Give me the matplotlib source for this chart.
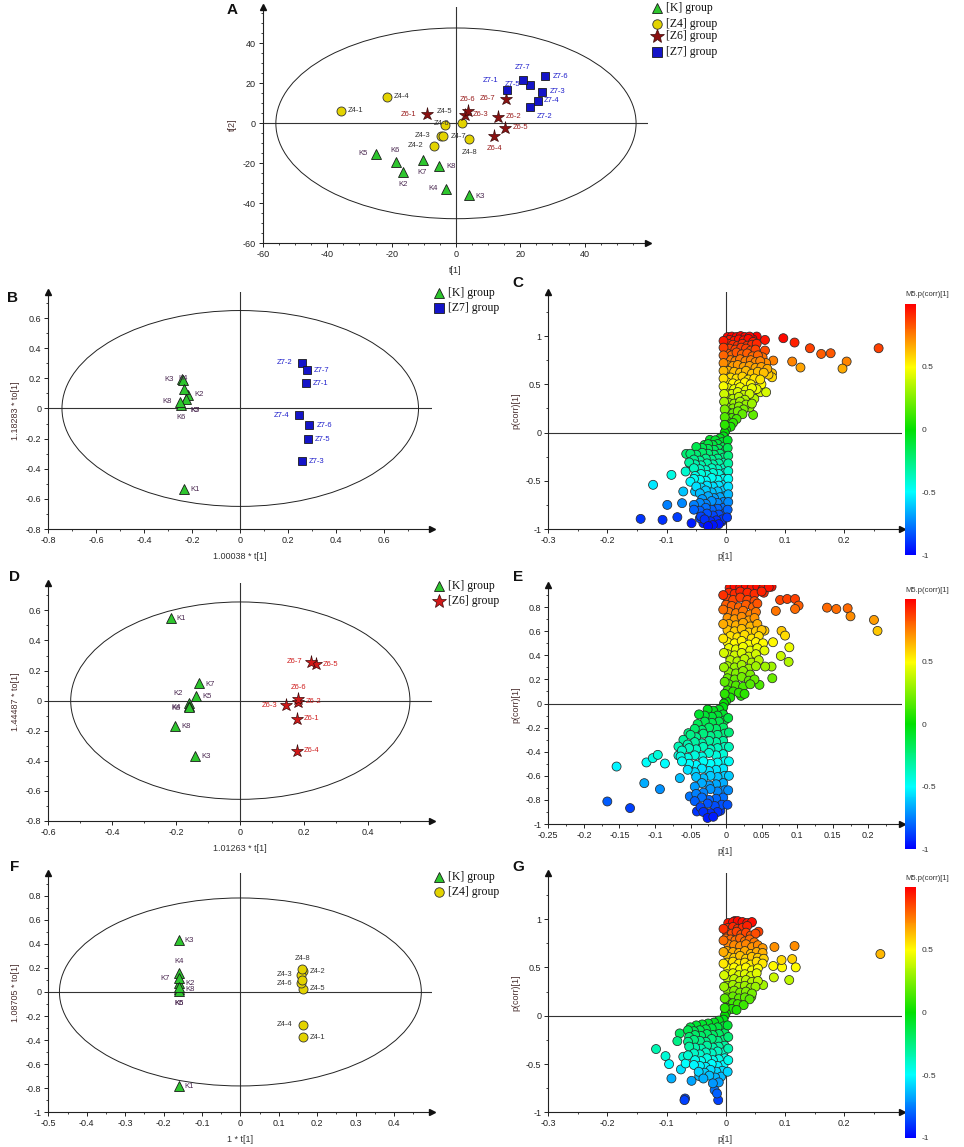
import numpy as np
import matplotlib
matplotlib.use('Agg')
import matplotlib.pyplot as plt
from matplotlib.patches import Ellipse
from matplotlib.lines import Line2D
from matplotlib.colors import LinearSegmentedColormap, Normalize
from matplotlib.ticker import MultipleLocator, AutoMinorLocator, FuncFormatter
import matplotlib.cm as cm

plt.rcParams['font.family'] = ['Liberation Sans', 'DejaVu Sans']
plt.rcParams['axes.unicode_minus'] = False

# ---------------- DATA ----------------
# Panel A (PCA scores)
a_k_names = ['K2', 'K3', 'K4', 'K5', 'K6', 'K7', 'K8']
a_k_t1 = [-16.6, 3.9, -3.0, -24.8, -18.8, -10.4, -5.2]
a_k_t2 = [-24.3, -35.7, -32.6, -15.3, -19.3, -18.3, -21.1]
a_z4_names = ['Z4-1', 'Z4-2', 'Z4-3', 'Z4-4', 'Z4-5', 'Z4-6', 'Z4-7', 'Z4-8']
a_z4_t1 = [-35.8, -6.9, -4.8, -21.6, -3.4, 1.8, -4.0, 4.1]
a_z4_t2 = [6.2, -11.3, -6.2, 13.3, -0.8, 0.0, -6.5, -8.0]
a_z6_names = ['Z6-1', 'Z6-2', 'Z6-3', 'Z6-4', 'Z6-5', 'Z6-6', 'Z6-7']
a_z6_t1 = [-9.0, 13.1, 2.7, 11.9, 15.3, 3.6, 15.4]
a_z6_t2 = [4.5, 3.3, 4.2, -6.3, -2.2, 6.0, 12.3]
a_z7_names = ['Z7-1', 'Z7-2', 'Z7-3', 'Z7-4', 'Z7-5', 'Z7-6', 'Z7-7']
a_z7_t1 = [15.8, 23.1, 26.9, 25.5, 23.0, 27.8, 20.7]
a_z7_t2 = [16.6, 8.3, 15.8, 11.3, 19.3, 23.6, 21.9]

# Panel B (OPLS-DA K vs Z7)
b_k_names = ['K1', 'K2', 'K3', 'K4', 'K5', 'K6', 'K7', 'K8']
b_k_t1 = [-0.233, -0.218, -0.241, -0.238, -0.225, -0.246, -0.233, -0.250]
b_k_to1 = [-0.535, 0.091, 0.195, 0.190, 0.064, 0.024, 0.128, 0.046]
b_z7_names = ['Z7-1', 'Z7-2', 'Z7-3', 'Z7-4', 'Z7-5', 'Z7-6', 'Z7-7']
b_z7_t1 = [0.274, 0.256, 0.256, 0.243, 0.281, 0.288, 0.278]
b_z7_to1 = [0.168, 0.305, -0.351, -0.046, -0.203, -0.110, 0.254]

# Panel D (OPLS-DA K vs Z6)
d_k_names = ['K1', 'K2', 'K3', 'K4', 'K5', 'K6', 'K7', 'K8']
d_k_t1 = [-0.218, -0.161, -0.141, -0.161, -0.138, -0.161, -0.130, -0.203]
d_k_to1 = [0.551, -0.018, -0.365, -0.033, 0.031, -0.044, 0.117, -0.168]
d_z6_names = ['Z6-1', 'Z6-2', 'Z6-3', 'Z6-4', 'Z6-5', 'Z6-6', 'Z6-7']
d_z6_t1 = [0.177, 0.181, 0.143, 0.177, 0.235, 0.181, 0.222]
d_z6_to1 = [-0.122, -0.007, -0.029, -0.334, 0.243, 0.013, 0.257]

# Panel F (OPLS-DA K vs Z4)
f_k_names = ['K1', 'K2', 'K3', 'K4', 'K5', 'K6', 'K7', 'K8']
f_k_t1 = [-0.161, -0.159, -0.161, -0.159, -0.159, -0.159, -0.161, -0.159]
f_k_to1 = [-0.778, 0.072, 0.432, 0.155, 0.022, 0.011, 0.114, 0.044]
f_z4_names = ['Z4-1', 'Z4-2', 'Z4-3', 'Z4-4', 'Z4-5', 'Z4-6', 'Z4-7', 'Z4-8']
f_z4_t1 = [0.163, 0.163, 0.159, 0.163, 0.163, 0.159, 0.161, 0.161]
f_z4_to1 = [-0.377, 0.172, 0.141, -0.274, 0.025, 0.072, 0.100, 0.188]

# S-plots: (p[1], p(corr)[1])
c_points = [
    (0.097, 0.978), (0.116, 0.933), (0.142, 0.874), (0.161, 0.815), (0.177, 0.822), (0.258, 0.874),
    (0.204, 0.736), (0.197, 0.663), (0.112, 0.736), (0.126, 0.674), (0.066, 0.96), (0.066, 0.85),
    (0.080, 0.746), (0.078, 0.615), (0.078, 0.573), (0.058, 0.418), (0.068, 0.418), (0.046, 0.183),
    (0.035, 0.287), (0.052, 0.995), (0.045, 0.967),
    (-0.144, -0.895), (-0.107, -0.905), (-0.082, -0.877), (-0.099, -0.75), (-0.123, -0.542),
    (-0.092, -0.439), (-0.074, -0.732), (-0.072, -0.611), (-0.052, -0.611), (-0.067, -0.221),
    (-0.061, -0.318), (-0.068, -0.404), (-0.036, -0.128), (-0.027, -0.076), (-0.047, -0.214),
    (-0.058, -0.94), (-0.038, -0.94), (-0.044, -0.888), (-0.027, -0.94), (-0.010, -0.80),
    (-0.016, -0.905), (-0.007, -0.922),
    (0.062, 0.78), (0.068, 0.72), (0.072, 0.6), (0.06, 0.5), (0.052, 0.45), (0.048, 0.35),
    (0.04, 0.26),
    (0.003, 0.99), (0.01, 0.995), (0.018, 0.99), (0.025, 1.0), (0.032, 0.99), (0.04, 0.995),
    (0.006, 0.96), (0.014, 0.95), (0.022, 0.965), (0.03, 0.955), (0.038, 0.97), (0.046, 0.94),
    (0.004, 0.92), (0.012, 0.91), (0.02, 0.9), (0.028, 0.92), (0.036, 0.9), (0.044, 0.91),
    (0.052, 0.92), (0.006, 0.87), (0.016, 0.86), (0.026, 0.88), (0.034, 0.87), (0.042, 0.85),
    (0.05, 0.86), (0.002, 0.82), (0.01, 0.8), (0.018, 0.83), (0.027, 0.81), (0.036, 0.82),
    (0.045, 0.79), (0.054, 0.8), (0.0, 0.76), (0.008, 0.75), (0.016, 0.74), (0.024, 0.76),
    (0.033, 0.74), (0.042, 0.75), (0.05, 0.73), (0.058, 0.74), (0.002, 0.7), (0.012, 0.69),
    (0.02, 0.7), (0.03, 0.68), (0.04, 0.69), (0.05, 0.67), (0.06, 0.68), (0.07, 0.66),
    (0.004, 0.64), (0.014, 0.63), (0.024, 0.62), (0.034, 0.64), (0.044, 0.61), (0.054, 0.63),
    (0.064, 0.62), (0.0, 0.58), (0.008, 0.57), (0.018, 0.56), (0.028, 0.58), (0.038, 0.55),
    (0.048, 0.56), (0.058, 0.55), (0.002, 0.52), (0.012, 0.51), (0.022, 0.5), (0.032, 0.52),
    (0.042, 0.5), (0.004, 0.46), (0.014, 0.45), (0.024, 0.47), (0.034, 0.44), (0.044, 0.46),
    (0.0, 0.41), (0.01, 0.4), (0.02, 0.42), (0.03, 0.39), (0.04, 0.4), (0.002, 0.36),
    (0.012, 0.35), (0.022, 0.37), (0.032, 0.34), (0.004, 0.31), (0.014, 0.3), (0.024, 0.32),
    (0.034, 0.29), (0.044, 0.3), (0.002, 0.26), (0.012, 0.25), (0.022, 0.27), (0.03, 0.24),
    (0.004, 0.21), (0.012, 0.2), (0.02, 0.22), (0.028, 0.19), (0.002, 0.16), (0.01, 0.15),
    (0.018, 0.14), (0.004, 0.11), (0.012, 0.1), (0.0, 0.07), (0.008, 0.06), (0.0, 0.03),
    (-0.002, 0.0), (-0.004, -0.04), (-0.01, -0.06), (-0.018, -0.08), (-0.006, -0.1),
    (-0.014, -0.12), (-0.022, -0.13), (-0.03, -0.12), (-0.004, -0.15), (-0.012, -0.17),
    (-0.02, -0.18), (-0.03, -0.17), (-0.04, -0.16), (-0.05, -0.15), (-0.002, -0.2),
    (-0.01, -0.22), (-0.02, -0.23), (-0.03, -0.22), (-0.04, -0.21), (-0.05, -0.23),
    (-0.06, -0.22), (-0.004, -0.26), (-0.014, -0.27), (-0.024, -0.28), (-0.034, -0.27),
    (-0.044, -0.29), (-0.054, -0.28), (-0.002, -0.31), (-0.012, -0.32), (-0.022, -0.33),
    (-0.032, -0.32), (-0.042, -0.34), (-0.052, -0.33), (-0.062, -0.31), (-0.004, -0.37),
    (-0.014, -0.38), (-0.024, -0.37), (-0.034, -0.39), (-0.044, -0.38), (-0.054, -0.37),
    (-0.002, -0.42), (-0.012, -0.43), (-0.022, -0.42), (-0.032, -0.44), (-0.042, -0.43),
    (-0.052, -0.45), (-0.004, -0.48), (-0.014, -0.49), (-0.024, -0.47), (-0.034, -0.5),
    (-0.044, -0.49), (-0.054, -0.48), (-0.06, -0.51), (-0.002, -0.54), (-0.012, -0.55),
    (-0.022, -0.56), (-0.032, -0.55), (-0.042, -0.57), (-0.05, -0.56), (-0.004, -0.6),
    (-0.014, -0.61), (-0.024, -0.62), (-0.034, -0.6), (-0.044, -0.63), (-0.002, -0.66),
    (-0.01, -0.67), (-0.02, -0.68), (-0.03, -0.66), (-0.04, -0.69), (-0.004, -0.72),
    (-0.014, -0.73), (-0.024, -0.71), (-0.034, -0.74), (-0.044, -0.73), (-0.054, -0.75),
    (-0.004, -0.78), (-0.014, -0.79), (-0.024, -0.8), (-0.034, -0.78), (-0.044, -0.81),
    (-0.054, -0.8), (-0.002, -0.84), (-0.012, -0.85), (-0.022, -0.86), (-0.032, -0.84),
    (-0.042, -0.87), (-0.006, -0.9), (-0.016, -0.91), (-0.026, -0.92), (-0.036, -0.9),
    (-0.012, -0.95), (-0.022, -0.96), (-0.03, -0.97),
    (-0.004, 0.95), (-0.004, 0.88), (-0.004, 0.8), (-0.004, 0.72), (-0.004, 0.64),
    (-0.004, 0.56), (-0.004, 0.48), (-0.003, 0.4), (-0.003, 0.32), (-0.002, 0.24),
    (-0.002, 0.16), (-0.002, 0.08), (0.003, -0.08), (0.003, -0.16), (0.004, -0.24),
    (0.004, -0.32), (0.004, -0.4), (0.004, -0.48), (0.004, -0.56), (0.004, -0.64),
    (0.004, -0.72), (0.003, -0.8), (0.002, -0.88),
]

e_points = [
    (0.142, 0.796), (0.155, 0.785), (0.171, 0.791), (0.175, 0.724), (0.208, 0.694), (0.213, 0.603),
    (0.076, 0.86), (0.086, 0.868), (0.097, 0.868), (0.102, 0.813), (0.097, 0.785), (0.070, 0.769),
    (0.078, 0.603), (0.083, 0.564), (0.089, 0.467), (0.077, 0.395), (0.088, 0.346), (0.066, 0.509),
    (0.054, 0.605), (0.064, 0.307), (0.055, 0.307), (0.065, 0.21), (0.047, 0.155), (0.021, 0.064),
    (0.064, 0.97), (0.053, 0.92),
    (-0.167, -0.813), (-0.135, -0.868), (-0.154, -0.523), (-0.115, -0.661), (-0.112, -0.489),
    (-0.103, -0.453), (-0.096, -0.426), (-0.086, -0.498), (-0.093, -0.711), (-0.065, -0.619),
    (-0.053, -0.246), (-0.060, -0.301), (-0.067, -0.357), (-0.067, -0.431), (-0.041, -0.896),
    (-0.027, -0.91), (-0.008, -0.89), (-0.051, -0.771), (-0.025, -0.053),
    (0.005, 0.96), (0.012, 0.97), (0.02, 0.965), (0.028, 0.97), (0.036, 0.96), (0.044, 0.97),
    (0.052, 0.955), (0.06, 0.965), (0.004, 0.92), (0.012, 0.91), (0.02, 0.93), (0.03, 0.92),
    (0.04, 0.91), (0.05, 0.93), (0.002, 0.87), (0.01, 0.86), (0.02, 0.88), (0.03, 0.86),
    (0.04, 0.85), (0.0, 0.82), (0.008, 0.81), (0.018, 0.8), (0.028, 0.82), (0.038, 0.8),
    (0.044, 0.83), (0.004, 0.76), (0.014, 0.75), (0.024, 0.77), (0.034, 0.74), (0.042, 0.76),
    (0.002, 0.71), (0.012, 0.7), (0.022, 0.72), (0.032, 0.69), (0.04, 0.71), (0.004, 0.66),
    (0.014, 0.65), (0.024, 0.67), (0.034, 0.64), (0.044, 0.66), (0.002, 0.61), (0.012, 0.6),
    (0.022, 0.62), (0.032, 0.59), (0.042, 0.6), (0.05, 0.61), (0.006, 0.56), (0.016, 0.55),
    (0.026, 0.57), (0.036, 0.54), (0.046, 0.56), (0.002, 0.51), (0.012, 0.5), (0.022, 0.52),
    (0.032, 0.49), (0.042, 0.51), (0.052, 0.5), (0.004, 0.46), (0.014, 0.45), (0.024, 0.47),
    (0.034, 0.44), (0.044, 0.46), (0.054, 0.44), (0.002, 0.41), (0.012, 0.4), (0.022, 0.42),
    (0.032, 0.39), (0.042, 0.41), (0.006, 0.36), (0.016, 0.35), (0.026, 0.37), (0.036, 0.34),
    (0.046, 0.36), (0.002, 0.31), (0.012, 0.3), (0.022, 0.32), (0.032, 0.29), (0.042, 0.31),
    (0.004, 0.26), (0.014, 0.25), (0.024, 0.27), (0.034, 0.24), (0.002, 0.21), (0.012, 0.2),
    (0.022, 0.22), (0.032, 0.19), (0.04, 0.2), (0.004, 0.16), (0.014, 0.15), (0.024, 0.14),
    (0.034, 0.16), (0.002, 0.11), (0.01, 0.1), (0.018, 0.09), (0.026, 0.08), (0.0, 0.06),
    (0.006, 0.05), (0.0, 0.02), (-0.003, 0.0), (-0.004, -0.03), (-0.01, -0.05), (-0.018, -0.06),
    (-0.026, -0.05), (-0.004, -0.09), (-0.012, -0.1), (-0.02, -0.11), (-0.03, -0.1),
    (-0.038, -0.09), (-0.002, -0.14), (-0.01, -0.15), (-0.02, -0.16), (-0.03, -0.15),
    (-0.04, -0.17), (-0.004, -0.2), (-0.014, -0.21), (-0.024, -0.2), (-0.034, -0.22),
    (-0.044, -0.21), (-0.002, -0.25), (-0.012, -0.26), (-0.022, -0.27), (-0.032, -0.25),
    (-0.042, -0.28), (-0.05, -0.26), (-0.004, -0.31), (-0.014, -0.32), (-0.024, -0.31),
    (-0.034, -0.33), (-0.044, -0.32), (-0.054, -0.34), (-0.002, -0.36), (-0.012, -0.37),
    (-0.022, -0.38), (-0.032, -0.36), (-0.042, -0.38), (-0.052, -0.37), (-0.062, -0.39),
    (-0.004, -0.42), (-0.014, -0.43), (-0.024, -0.41), (-0.034, -0.44), (-0.044, -0.43),
    (-0.054, -0.45), (-0.064, -0.44), (-0.002, -0.48), (-0.012, -0.49), (-0.022, -0.5),
    (-0.032, -0.48), (-0.042, -0.51), (-0.052, -0.5), (-0.062, -0.48), (-0.004, -0.54),
    (-0.014, -0.55), (-0.024, -0.56), (-0.034, -0.54), (-0.044, -0.57), (-0.054, -0.55),
    (-0.002, -0.6), (-0.012, -0.61), (-0.022, -0.6), (-0.032, -0.62), (-0.042, -0.61),
    (-0.004, -0.66), (-0.014, -0.67), (-0.024, -0.68), (-0.034, -0.66), (-0.044, -0.69),
    (-0.002, -0.72), (-0.012, -0.73), (-0.022, -0.71), (-0.032, -0.74), (-0.042, -0.75),
    (-0.004, -0.78), (-0.014, -0.79), (-0.024, -0.8), (-0.034, -0.78), (-0.044, -0.81),
    (-0.006, -0.84), (-0.016, -0.85), (-0.026, -0.83), (-0.036, -0.86), (-0.012, -0.9),
    (-0.022, -0.91), (-0.032, -0.9), (-0.026, -0.95), (-0.018, -0.94),
    (-0.004, 0.9), (-0.004, 0.78), (-0.004, 0.66), (-0.004, 0.54), (-0.003, 0.42),
    (-0.003, 0.3), (-0.002, 0.18), (-0.002, 0.08), (0.003, -0.12), (0.004, -0.24),
    (0.004, -0.36), (0.004, -0.48), (0.004, -0.6), (0.003, -0.72), (0.002, -0.84),
]

g_points = [
    (0.261, 0.639), (0.116, 0.722), (0.082, 0.712), (0.112, 0.587), (0.118, 0.501), (0.095, 0.501),
    (0.094, 0.577), (0.107, 0.37), (0.081, 0.397), (0.080, 0.515), (0.063, 0.318), (0.055, 0.87),
    (0.043, 0.964), (0.029, 0.964), (0.015, 0.981), (0.060, 0.687), (0.043, 0.197),
    (-0.118, -0.345), (-0.102, -0.418), (-0.096, -0.501), (-0.092, -0.649), (-0.078, -0.183),
    (-0.082, -0.263), (-0.072, -0.425), (-0.076, -0.556), (-0.068, -0.494), (-0.058, -0.674),
    (-0.069, -0.857), (-0.070, -0.874), (-0.013, -0.874), (-0.019, -0.77), (-0.015, -0.805),
    (-0.045, -0.625), (-0.055, -0.131),
    (0.004, 0.96), (0.012, 0.97), (0.02, 0.98), (0.028, 0.97), (0.036, 0.96), (0.044, 0.97),
    (0.004, 0.91), (0.012, 0.92), (0.02, 0.9), (0.028, 0.91), (0.036, 0.93), (0.002, 0.86),
    (0.01, 0.85), (0.018, 0.87), (0.026, 0.84), (0.034, 0.86), (0.042, 0.83), (0.05, 0.85),
    (0.0, 0.8), (0.008, 0.79), (0.016, 0.78), (0.024, 0.8), (0.032, 0.77), (0.04, 0.79),
    (0.048, 0.76), (0.004, 0.74), (0.014, 0.73), (0.024, 0.72), (0.034, 0.74), (0.044, 0.71),
    (0.054, 0.73), (0.062, 0.7), (0.002, 0.67), (0.012, 0.66), (0.022, 0.65), (0.032, 0.67),
    (0.042, 0.64), (0.052, 0.66), (0.062, 0.65), (0.004, 0.61), (0.014, 0.6), (0.024, 0.62),
    (0.034, 0.59), (0.044, 0.61), (0.054, 0.6), (0.064, 0.59), (0.002, 0.55), (0.012, 0.56),
    (0.022, 0.54), (0.032, 0.55), (0.042, 0.53), (0.052, 0.56), (0.062, 0.54), (0.004, 0.49),
    (0.014, 0.5), (0.024, 0.48), (0.034, 0.5), (0.044, 0.47), (0.054, 0.49), (0.002, 0.43),
    (0.012, 0.44), (0.022, 0.42), (0.032, 0.43), (0.042, 0.41), (0.052, 0.44), (0.004, 0.37),
    (0.014, 0.38), (0.024, 0.36), (0.034, 0.37), (0.044, 0.35), (0.054, 0.36), (0.002, 0.31),
    (0.012, 0.32), (0.022, 0.3), (0.032, 0.31), (0.042, 0.29), (0.05, 0.3), (0.004, 0.25),
    (0.014, 0.26), (0.024, 0.24), (0.034, 0.25), (0.044, 0.23), (0.002, 0.19), (0.012, 0.2),
    (0.022, 0.18), (0.032, 0.19), (0.04, 0.17), (0.004, 0.14), (0.012, 0.13), (0.02, 0.12),
    (0.03, 0.11), (0.002, 0.08), (0.01, 0.07), (0.018, 0.06), (0.0, 0.03), (-0.002, 0.0),
    (-0.004, -0.04), (-0.012, -0.05), (-0.02, -0.07), (-0.03, -0.08), (-0.04, -0.09),
    (-0.05, -0.1), (-0.06, -0.12), (-0.004, -0.11), (-0.014, -0.12), (-0.024, -0.13),
    (-0.034, -0.14), (-0.044, -0.15), (-0.054, -0.16), (-0.064, -0.15), (-0.002, -0.18),
    (-0.012, -0.19), (-0.022, -0.2), (-0.032, -0.19), (-0.042, -0.21), (-0.052, -0.2),
    (-0.062, -0.22), (-0.004, -0.25), (-0.014, -0.26), (-0.024, -0.24), (-0.034, -0.27),
    (-0.044, -0.26), (-0.054, -0.25), (-0.064, -0.27), (-0.002, -0.31), (-0.012, -0.32),
    (-0.022, -0.33), (-0.032, -0.31), (-0.042, -0.34), (-0.052, -0.33), (-0.062, -0.32),
    (-0.004, -0.38), (-0.014, -0.37), (-0.024, -0.39), (-0.034, -0.38), (-0.044, -0.4),
    (-0.054, -0.39), (-0.064, -0.41), (-0.002, -0.44), (-0.012, -0.45), (-0.022, -0.46),
    (-0.032, -0.44), (-0.042, -0.47), (-0.052, -0.46), (-0.004, -0.51), (-0.014, -0.52),
    (-0.024, -0.5), (-0.034, -0.53), (-0.044, -0.52), (-0.054, -0.51), (-0.006, -0.57),
    (-0.016, -0.58), (-0.026, -0.56), (-0.036, -0.59), (-0.046, -0.58), (-0.008, -0.63),
    (-0.018, -0.64), (-0.028, -0.62), (-0.038, -0.65), (-0.012, -0.69), (-0.022, -0.7),
    (-0.004, 0.9), (-0.004, 0.78), (-0.004, 0.66), (-0.004, 0.54), (-0.003, 0.42),
    (-0.003, 0.3), (-0.002, 0.18), (-0.002, 0.08), (0.003, -0.1), (0.004, -0.22),
    (0.004, -0.34), (0.004, -0.46), (0.003, -0.58),
]

# ---------------- STYLE ----------------
W, H = 964, 1147
fig = plt.figure(figsize=(W / 100, H / 100), dpi=100)
PX = 0.72  # points per pixel at 100 dpi

def fbox(l, t, r, b):
    return [l / W, 1 - b / H, (r - l) / W, (b - t) / H]

def fmt(v, pos=None):
    v = round(v, 6)
    if v == 0:
        return '0'
    return '{:g}'.format(v)

AX_COL = '#222222'
TICK_FS = 6.5

def base_axes(box, xlim, ylim, xmaj, ymaj, xminor, yminor, xlabel, ylabel):
    ax = fig.add_axes(fbox(*box))
    ax.set_xlim(*xlim)
    ax.set_ylim(*ylim)
    ax.patch.set_alpha(0)
    for s in ['top', 'right']:
        ax.spines[s].set_visible(False)
    for s in ['left', 'bottom']:
        ax.spines[s].set_color(AX_COL)
        ax.spines[s].set_linewidth(0.8)
    ax.xaxis.set_major_locator(MultipleLocator(xmaj))
    ax.yaxis.set_major_locator(MultipleLocator(ymaj))
    ax.xaxis.set_minor_locator(AutoMinorLocator(xminor))
    ax.yaxis.set_minor_locator(AutoMinorLocator(yminor))
    ax.xaxis.set_major_formatter(FuncFormatter(fmt))
    ax.yaxis.set_major_formatter(FuncFormatter(fmt))
    ax.tick_params(which='major', direction='out', length=3, width=0.7, labelsize=TICK_FS,
                   colors=AX_COL, pad=2)
    ax.tick_params(which='minor', direction='out', length=1.6, width=0.6, colors=AX_COL)
    ax.plot(1, 0, '>', color='#111111', ms=4.5, transform=ax.transAxes, clip_on=False, zorder=6)
    ax.plot(0, 1, '^', color='#111111', ms=4.5, transform=ax.transAxes, clip_on=False, zorder=6)
    ax.axhline(0, color='#333333', lw=0.8, zorder=1)
    ax.axvline(0, color='#333333', lw=0.8, zorder=1)
    ax.set_xlabel(xlabel, fontsize=6.5, color='#333333', labelpad=5)
    ax.set_ylabel(ylabel, fontsize=6.5, color='#4a3030', labelpad=4)
    return ax

K_STYLE = dict(marker='^', mfc='#2ec62e', mec='#1a1a1a', ms=7.2, mew=0.6)
Z4_STYLE = dict(marker='o', mfc='#e3d300', mec='#333333', ms=6.5, mew=0.6)
Z6_STYLE_A = dict(marker='*', mfc='#8b1010', mec='#3a0a0a', ms=9.5, mew=0.5)
Z6_STYLE_D = dict(marker='*', mfc='#d01818', mec='#3a0a0a', ms=9.5, mew=0.5)
Z7_STYLE = dict(marker='s', mfc='#1414c8', mec='#1a1a1a', ms=6.4, mew=0.6)

K_LAB = '#4a2850'
Z4_LAB = '#333333'
Z6_LAB_A = '#9a1f1f'
Z6_LAB_D = '#d02020'
Z7_LAB = '#2222cc'

def draw_group(ax, names, xs, ys, style, lab_col, offsets):
    ax.plot(xs, ys, ls='none', zorder=4, **style)
    for n, x, y in zip(names, xs, ys):
        off = offsets.get(n)
        if off is None:
            continue
        ax.annotate(n, (x, y), xytext=(off[0] * PX, off[1] * PX), textcoords='offset points',
                    ha='center', va='center', fontsize=5.5, color=lab_col, zorder=5)

# label offsets in pixels (dx, dy up)
A_OFF = {'K5': (-13, 0), 'K6': (0, 11), 'K2': (0, -13), 'K7': (0, -13), 'K8': (12, -1),
         'K4': (-13, 0), 'K3': (12, -2),
         'Z4-1': (15, 0), 'Z4-4': (15, 0), 'Z4-5': (0, 13), 'Z4-6': (-20, 0), 'Z4-3': (-18, 0),
         'Z4-7': (15, 0), 'Z4-2': (-18, 0), 'Z4-8': (0, -13),
         'Z6-1': (-18, 0), 'Z6-6': (0, 12), 'Z6-3': (16, 0), 'Z6-7': (-18, 0), 'Z6-2': (15, 0),
         'Z6-5': (15, 0), 'Z6-4': (0, -13),
         'Z7-1': (-16, 10), 'Z7-5': (-17, 0), 'Z7-7': (0, 12), 'Z7-6': (15, 0), 'Z7-3': (15, 0),
         'Z7-4': (14, 0), 'Z7-2': (14, -10)}
B_OFF = {'K3': (-13, 0), 'K4': (0, 1), 'K7': (11, -21), 'K5': (9, -12), 'K2': (11, 0),
         'K8': (-13, 0), 'K6': (0, -13), 'K1': (11, 0),
         'Z7-2': (-17, 0), 'Z7-7': (15, 0), 'Z7-1': (15, 0), 'Z7-4': (-17, 0), 'Z7-6': (15, 0),
         'Z7-5': (15, 0), 'Z7-3': (15, 0)}
D_OFF = {'K1': (11, -1), 'K7': (11, -1), 'K5': (11, -1), 'K2': (-11, 10), 'K4': (-13, -2),
         'K6': (-13, -1), 'K8': (11, -1), 'K3': (11, -1),
         'Z6-7': (-17, 0), 'Z6-5': (15, 0), 'Z6-6': (0, 11), 'Z6-2': (15, 0), 'Z6-3': (-17, 0),
         'Z6-1': (15, 0), 'Z6-4': (15, 0)}
F_OFF = {'K3': (11, -1), 'K4': (0, 12), 'K7': (-13, 0), 'K2': (11, 0), 'K8': (11, -3),
         'K5': (0, -14), 'K6': (0, -13), 'K1': (11, -1),
         'Z4-8': (0, 11), 'Z4-2': (15, 0), 'Z4-3': (-17, 0), 'Z4-6': (-17, 0), 'Z4-5': (15, 0),
         'Z4-4': (-18, 0), 'Z4-1': (15, 0)}

def panel_letter(x, y, s):
    fig.text(x / W, 1 - y / H, s, fontsize=11, fontweight='bold', ha='center', va='center',
             color='#111111')

def legend_row(x, y, style, text):
    st = dict(style)
    st['ms'] = st['ms'] * 1.05
    fig.add_artist(Line2D([x / W], [1 - y / H], transform=fig.transFigure, ls='none', **st))
    fig.text((x + 9) / W, 1 - y / H, text, fontsize=8.5, family=['Liberation Serif'],
             ha='left', va='center', color='#111111')

# ---------------- PANEL A ----------------
axA = base_axes((263, 7, 648.3, 243.3), (-60, 59.8), (-60, 58.2), 20, 20, 4, 4, 't[1]', 't[2]')
axA.add_patch(Ellipse((0, 0), 112, 95.4, fill=False, lw=0.7, ec='#222222', zorder=2))
draw_group(axA, a_k_names, a_k_t1, a_k_t2, K_STYLE, K_LAB, A_OFF)
draw_group(axA, a_z4_names, a_z4_t1, a_z4_t2, Z4_STYLE, Z4_LAB, A_OFF)
draw_group(axA, a_z6_names, a_z6_t1, a_z6_t2, Z6_STYLE_A, Z6_LAB_A, A_OFF)
draw_group(axA, a_z7_names, a_z7_t1, a_z7_t2, Z7_STYLE, Z7_LAB, A_OFF)
panel_letter(232, 10, 'A')
legend_row(657, 8.3, K_STYLE, '[K] group')
legend_row(657, 24, Z4_STYLE, '[Z4] group')
legend_row(657, 36, Z6_STYLE_A, '[Z6] group')
legend_row(657, 51.7, Z7_STYLE, '[Z7] group')

# ---------------- PANEL B ----------------
axB = base_axes((48.3, 291.7, 431.7, 529), (-0.8, 0.798), (-0.8, 0.775), 0.2, 0.2, 2, 2,
                '1.00038 * t[1]', '1.18283 * to[1]')
axB.add_patch(Ellipse((0, 0), 2 * 0.743, 2 * 0.65, fill=False, lw=0.7, ec='#222222', zorder=2))
draw_group(axB, b_k_names, b_k_t1, b_k_to1, K_STYLE, K_LAB, B_OFF)
draw_group(axB, b_z7_names, b_z7_t1, b_z7_to1, Z7_STYLE, Z7_LAB, B_OFF)
panel_letter(12, 298, 'B')
legend_row(439, 293.3, K_STYLE, '[K] group')
legend_row(439, 308.3, Z7_STYLE, '[Z7] group')

# ---------------- PANEL D ----------------
axD = base_axes((48.3, 583.3, 431.7, 821), (-0.6, 0.598), (-0.8, 0.78), 0.2, 0.2, 2, 2,
                '1.01263 * t[1]', '1.44487 * to[1]')
axD.add_patch(Ellipse((0, 0), 2 * 0.53, 2 * 0.656, fill=False, lw=0.7, ec='#222222', zorder=2))
draw_group(axD, d_k_names, d_k_t1, d_k_to1, K_STYLE, K_LAB, D_OFF)
draw_group(axD, d_z6_names, d_z6_t1, d_z6_to1, Z6_STYLE_D, Z6_LAB_D, D_OFF)
panel_letter(15, 577, 'D')
legend_row(439, 586, K_STYLE, '[K] group')
legend_row(439, 601, Z6_STYLE_D, '[Z6] group')

# ---------------- PANEL F ----------------
axF = base_axes((48.3, 873.3, 431.7, 1112.3), (-0.5, 0.498), (-1.0, 0.986), 0.1, 0.2, 2, 2,
                '1 * t[1]', '1.08705 * to[1]')
axF.add_patch(Ellipse((0, 0), 2 * 0.471, 2 * 0.781, fill=False, lw=0.7, ec='#222222', zorder=2))
draw_group(axF, f_k_names, f_k_t1, f_k_to1, K_STYLE, K_LAB, F_OFF)
draw_group(axF, f_z4_names, f_z4_t1, f_z4_to1, Z4_STYLE, Z4_LAB, F_OFF)
panel_letter(15, 867, 'F')
legend_row(439, 876.7, K_STYLE, '[K] group')
legend_row(439, 892.3, Z4_STYLE, '[Z4] group')

# ---------------- S-PLOTS ----------------
cmap = LinearSegmentedColormap.from_list(
    'pcorr', [(0.0, '#0000ff'), (0.25, '#00ffff'), (0.5, '#00e000'), (0.75, '#ffff00'),
              (1.0, '#ff0000')])
norm = Normalize(-1, 1)

def splot(box, xlim, ylim, xmaj, ymaj, yminor, pts, cbox, letter_xy, letter):
    ax = base_axes(box, xlim, ylim, xmaj, ymaj, 2, yminor, 'p[1]', 'p(corr)[1]')
    arr = np.array(pts)
    ax.scatter(arr[:, 0], arr[:, 1], c=arr[:, 1], cmap=cmap, norm=norm, s=42,
               edgecolors='#2a2a2a', linewidths=0.55, zorder=3)
    cax = fig.add_axes(fbox(*cbox))
    cb = fig.colorbar(cm.ScalarMappable(norm=norm, cmap=cmap), cax=cax)
    cb.outline.set_visible(False)
    cb.set_ticks([-1, -0.5, 0, 0.5])
    cb.ax.yaxis.set_major_formatter(FuncFormatter(fmt))
    cb.ax.tick_params(length=0, labelsize=6, pad=4, colors='#333333')
    fig.text(cbox[0] / W, 1 - (cbox[1] - 9) / H, 'M5.p(corr)[1]', fontsize=5.5,
             ha='left', va='center', color='#333333')
    panel_letter(letter_xy[0], letter_xy[1], letter)
    return ax

splot((548.3, 291.7, 901.7, 529), (-0.3, 0.297), (-1.0, 1.46), 0.1, 0.5, 2, c_points,
      (905, 304, 915.7, 555), (518, 283), 'C')
splot((548.3, 585, 901.7, 824), (-0.25, 0.247), (-1.0, 0.984), 0.05, 0.2, 2, e_points,
      (905, 599, 915.7, 849.3), (518, 577), 'E')
splot((548.3, 873.3, 901.7, 1112.3), (-0.3, 0.297), (-1.0, 1.475), 0.1, 0.5, 2, g_points,
      (905, 887.3, 915.7, 1137.7), (518, 867), 'G')

fig.savefig('out.png', dpi=100)
